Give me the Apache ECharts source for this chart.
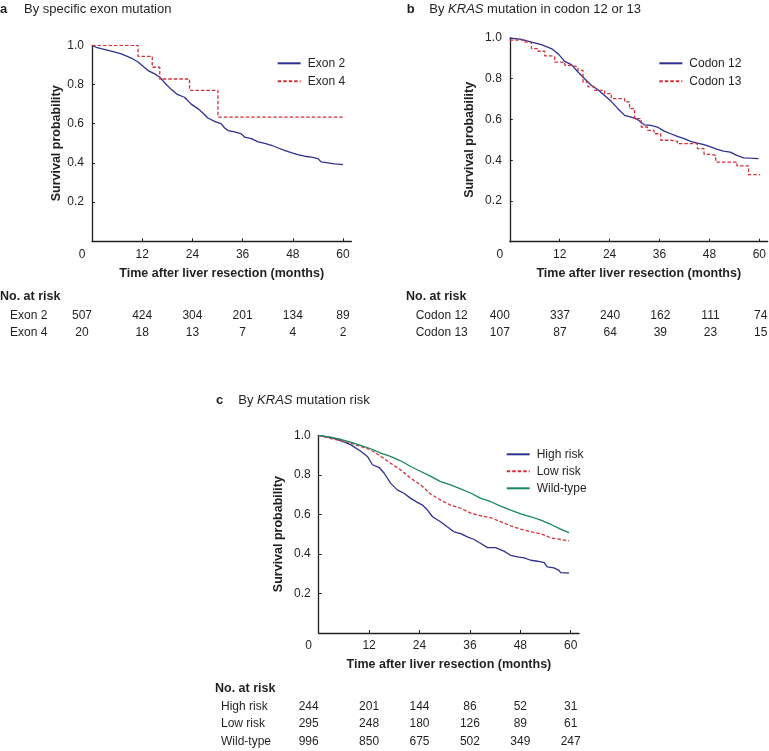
<!DOCTYPE html>
<html><head><meta charset="utf-8">
<script src="https://cdn.jsdelivr.net/npm/echarts@6/dist/echarts.min.js"></script>
<style>html,body{margin:0;padding:0;background:#fff}#c{width:769px;height:751px}</style>
</head><body><div id="c"></div>
<script>
const FONT = '"Liberation Sans", Arial, Helvetica, sans-serif';
const TXT = '#231f20';
const BLUE = '#2e3192', RED = '#d2313a', GREEN = '#17885a';

// axis ticks
const tickMonths = [0, 12, 24, 36, 48, 60];
const innerTickMonths = [12, 24, 36, 48, 60];
const yTicks = [0.2, 0.4, 0.6, 0.8, 1.0];

// Panel a: survival curves [month, probability]
const exon2 = [[0,1.0],[1,0.99],[2.2,0.983],[4.6,0.97],[7,0.956],[9.4,0.935],[11,0.915],[12.2,0.893],[13.4,0.871],[15,0.854],[16.2,0.837],[17.4,0.808],[19,0.774],[20.5,0.748],[22.1,0.735],[23.7,0.70],[25.3,0.677],[26.5,0.655],[27.7,0.629],[29.3,0.612],[30.9,0.599],[31.7,0.578],[32.5,0.565],[34.1,0.558],[35.7,0.548],[36.5,0.531],[38.1,0.524],[39.7,0.507],[41.3,0.50],[42.9,0.49],[44.5,0.476],[46,0.464],[47.6,0.452],[49.2,0.442],[50.8,0.434],[52.4,0.429],[54,0.422],[54.8,0.405],[56.4,0.40],[58,0.395],[60,0.391]];
const exon4 = [[0,1.0],[11,0.944],[14.4,0.888],[16.2,0.828],[23.3,0.77],[30.1,0.634],[60,0.634]];

// Panel b
const codon12 = [[0,1.0],[2.8,0.993],[5.2,0.98],[7.6,0.967],[10,0.948],[11.6,0.923],[13.2,0.885],[14.8,0.869],[16.4,0.833],[18,0.80],[19.6,0.768],[21.2,0.746],[22.8,0.718],[24.4,0.689],[26,0.653],[27.6,0.62],[29.2,0.612],[30.7,0.60],[32.3,0.574],[33.9,0.571],[35.5,0.563],[37.1,0.543],[38.7,0.53],[40.3,0.517],[41.9,0.506],[43.5,0.493],[45.1,0.484],[46.7,0.476],[48.3,0.465],[49.9,0.453],[51.4,0.445],[53,0.44],[54.6,0.424],[56.2,0.412],[57.8,0.41],[59.8,0.408]];
const codon13 = [[0,0.99],[3.6,0.98],[5.2,0.948],[6.8,0.935],[8.4,0.912],[10,0.907],[10.8,0.882],[13.2,0.866],[14.8,0.858],[16.4,0.841],[17.6,0.784],[18.8,0.76],[20.4,0.743],[22.8,0.727],[24.4,0.702],[27.6,0.686],[28.8,0.653],[30,0.604],[31.6,0.563],[33.1,0.547],[34.7,0.53],[36.3,0.498],[38.7,0.493],[40.3,0.481],[45.1,0.457],[46.7,0.429],[48.3,0.424],[49.5,0.391],[54.6,0.372],[57.4,0.329],[60.2,0.329]];

// Panel c
const highRisk = [[0,1.0],[2.9,0.99],[5.2,0.973],[7.6,0.953],[10,0.919],[11.6,0.893],[12.8,0.851],[14.4,0.837],[15.6,0.808],[17.1,0.758],[18.7,0.724],[20.3,0.707],[21.9,0.681],[23.5,0.661],[24.7,0.647],[25.9,0.622],[27.1,0.588],[29,0.563],[30.6,0.537],[32.2,0.512],[33.8,0.503],[35.4,0.486],[37,0.473],[38.6,0.453],[40.2,0.432],[42.1,0.432],[44.1,0.414],[45.7,0.393],[47.3,0.385],[48.9,0.38],[50.5,0.368],[52.1,0.363],[53.7,0.356],[54.4,0.334],[56,0.329],[57.2,0.317],[57.6,0.305],[59.6,0.303]];
const lowRisk = [[0,1.0],[2.9,0.983],[5.2,0.973],[7.6,0.961],[10,0.944],[12.4,0.927],[14.8,0.893],[17.1,0.859],[19.5,0.825],[21.9,0.783],[24.3,0.749],[26.7,0.702],[29,0.673],[31.4,0.647],[33.8,0.631],[36.3,0.605],[38.6,0.593],[41,0.583],[43.3,0.563],[45.7,0.542],[48.1,0.525],[50.5,0.512],[52.9,0.502],[55.3,0.481],[57.6,0.473],[59.6,0.466]];
const wildType = [[0,1.0],[2.9,0.99],[5.2,0.98],[7.6,0.966],[10,0.949],[12.4,0.932],[14.8,0.91],[17.1,0.893],[19.5,0.871],[21.9,0.842],[24.3,0.817],[26.7,0.792],[29,0.766],[31.4,0.749],[33.8,0.729],[36.3,0.707],[38.6,0.681],[41,0.664],[43.3,0.642],[45.7,0.622],[48.1,0.603],[50.5,0.588],[52.9,0.571],[55.3,0.549],[57.6,0.525],[59.6,0.508]];

// Numbers at risk
const riskTimes = [0, 12, 24, 36, 48, 60];
const riskExon2 = [507, 424, 304, 201, 134, 89];
const riskExon4 = [20, 18, 13, 7, 4, 2];
const riskCodon12 = [400, 337, 240, 162, 111, 74];
const riskCodon13 = [107, 87, 64, 39, 23, 15];
const riskHigh = [244, 201, 144, 86, 52, 31];
const riskLow = [295, 248, 180, 126, 89, 61];
const riskWild = [996, 850, 675, 502, 349, 247];

const plotGrids = [
  {left: 92, top: 45.3, width: 259.4, height: 196, yGap: 29},
  {left: 509.8, top: 38, width: 259.4, height: 203.7, yGap: 34},
  {left: 318.7, top: 435.3, width: 260.4, height: 197.7, yGap: 34}
];
const tableGrids = [
  {left: 92, top: 306.5, width: 259.4, height: 35.4, margin: 82, rows: ['Exon 2', 'Exon 4'], vals: [riskExon2, riskExon4]},
  {left: 509.8, top: 306.5, width: 259.4, height: 35.4, margin: 94.1, rows: ['Codon 12', 'Codon 13'], vals: [riskCodon12, riskCodon13]},
  {left: 318.7, top: 697.5, width: 260.4, height: 52.5, margin: 97.7, rows: ['High risk', 'Low risk', 'Wild-type'], vals: [riskHigh, riskLow, riskWild]}
];

const grid = [], xAxis = [], yAxis = [], series = [];
plotGrids.forEach((g, i) => {
  grid.push({left: g.left, top: g.top, width: g.width, height: g.height, containLabel: false});
  xAxis.push({
    type: 'value', gridIndex: i, min: 0, max: 62,
    name: 'Time after liver resection (months)', nameLocation: 'middle', nameGap: 25.5,
    nameTextStyle: {fontFamily: FONT, fontWeight: 'bold', fontSize: 12.5, color: TXT},
    axisLine: {show: true, onZero: false, lineStyle: {color: TXT, width: 1.3}},
    axisTick: {show: true, inside: true, length: 3, customValues: innerTickMonths, lineStyle: {color: TXT, width: 1}},
    axisLabel: {customValues: tickMonths, margin: 7, fontSize: 12, color: TXT, fontFamily: FONT,
      formatter: v => v === 0 ? '{z|0}' : String(v),
      rich: {z: {padding: [0, 20, 0, 0], fontSize: 12, color: TXT, fontFamily: FONT}}},
    splitLine: {show: false}
  });
  yAxis.push({
    type: 'value', gridIndex: i, min: 0, max: 1,
    name: 'Survival probability', nameLocation: 'middle', nameGap: g.yGap, nameRotate: 90,
    nameTextStyle: {fontFamily: FONT, fontWeight: 'bold', fontSize: 12.5, color: TXT},
    axisLine: {show: true, onZero: false, lineStyle: {color: TXT, width: 1.3}},
    axisTick: {show: true, inside: true, length: 3, customValues: yTicks, lineStyle: {color: TXT, width: 1}},
    axisLabel: {customValues: yTicks, margin: 8, fontSize: 12, color: TXT, fontFamily: FONT, formatter: v => v.toFixed(1)},
    splitLine: {show: false}
  });
});
tableGrids.forEach((g, k) => {
  const i = 3 + k;
  grid.push({left: g.left, top: g.top, width: g.width, height: g.height, containLabel: false});
  xAxis.push({type: 'value', gridIndex: i, min: 0, max: 62, show: false});
  yAxis.push({type: 'category', gridIndex: i, data: g.rows, inverse: true,
    axisLine: {show: false}, axisTick: {show: false}, splitLine: {show: false},
    axisLabel: {margin: g.margin, align: 'left', fontSize: 12, color: TXT, fontFamily: FONT}});
  const data = [];
  g.rows.forEach((r, ri) => {
    riskTimes.forEach((t, ti) => {
      data.push({value: [t, r, g.vals[ri][ti]], label: {offset: t === 0 ? [-10, 0] : [0, 0]}});
    });
  });
  series.push({type: 'scatter', xAxisIndex: i, yAxisIndex: i, symbol: 'circle', symbolSize: 1,
    itemStyle: {color: 'rgba(0,0,0,0)'}, silent: true, data,
    label: {show: true, position: 'inside', formatter: p => String(p.value[2]), fontSize: 12,
      color: TXT, fontFamily: FONT, textBorderWidth: 0, opacity: 1}});
});

function km(name, data, idx, color, dashed, step) {
  return {type: 'line', name, data, xAxisIndex: idx, yAxisIndex: idx, step: step,
    symbol: 'none', showSymbol: false, silent: true, animation: false,
    lineStyle: {color, width: 1.3, type: dashed ? [3.5, 2] : 'solid'}, itemStyle: {color}};
}
series.push(km('Exon 2', exon2, 0, BLUE, false, false));
series.push(km('Exon 4', exon4, 0, RED, true, 'end'));
series.push(km('Codon 12', codon12, 1, BLUE, false, false));
series.push(km('Codon 13', codon13, 1, RED, true, 'end'));
series.push(km('High risk', highRisk, 2, BLUE, false, false));
series.push(km('Low risk', lowRisk, 2, RED, true, false));
series.push(km('Wild-type', wildType, 2, GREEN, false, false));

const legendBase = {orient: 'vertical', itemWidth: 23, itemHeight: 14, selectedMode: false,
  itemStyle: {opacity: 0, color: 'rgba(0,0,0,0)', borderColor: 'rgba(0,0,0,0)', borderWidth: 0},
  textStyle: {fontSize: 12, color: TXT, fontFamily: FONT, padding: [0, 0, 0, 2]}};
const legend = [
  Object.assign({}, legendBase, {left: 271.7, top: 52.3, itemGap: 6, data: ['Exon 2', 'Exon 4']}),
  Object.assign({}, legendBase, {left: 653.3, top: 52.3, itemGap: 6, data: ['Codon 12', 'Codon 13']}),
  Object.assign({}, legendBase, {left: 500.7, top: 443.3, itemGap: 5, data: ['High risk', 'Low risk', 'Wild-type']})
];

function txt(x, y, text, size, weight, rich) {
  return {type: 'text', x, y, silent: true, style: {text, fontSize: size, fontWeight: weight || 'normal', fontFamily: FONT,
    fill: TXT, verticalAlign: 'middle', textVerticalAlign: 'middle', rich: rich}};
}
const italic = {i: {fontStyle: 'italic', fontSize: 13, fontFamily: FONT, fill: TXT, color: TXT}};
const graphic = [
  txt(0, 9, 'a', 13, 'bold'),
  txt(24, 9, 'By specific exon mutation', 13),
  txt(406.7, 9, 'b', 13, 'bold'),
  txt(429.3, 9, 'By {i|KRAS} mutation in codon 12 or 13', 13, 'normal', italic),
  txt(216, 400.7, 'c', 13, 'bold'),
  txt(238.3, 400.7, 'By {i|KRAS} mutation risk', 13, 'normal', italic),
  txt(0, 296.7, 'No. at risk', 12.5, 'bold'),
  txt(406, 296.7, 'No. at risk', 12.5, 'bold'),
  txt(215, 689, 'No. at risk', 12.5, 'bold')
];

const chart = echarts.init(document.getElementById('c'), null, {renderer: 'canvas'});
chart.setOption({animation: false, backgroundColor: '#fff', grid, xAxis, yAxis, series, legend, graphic});
</script></body></html>
